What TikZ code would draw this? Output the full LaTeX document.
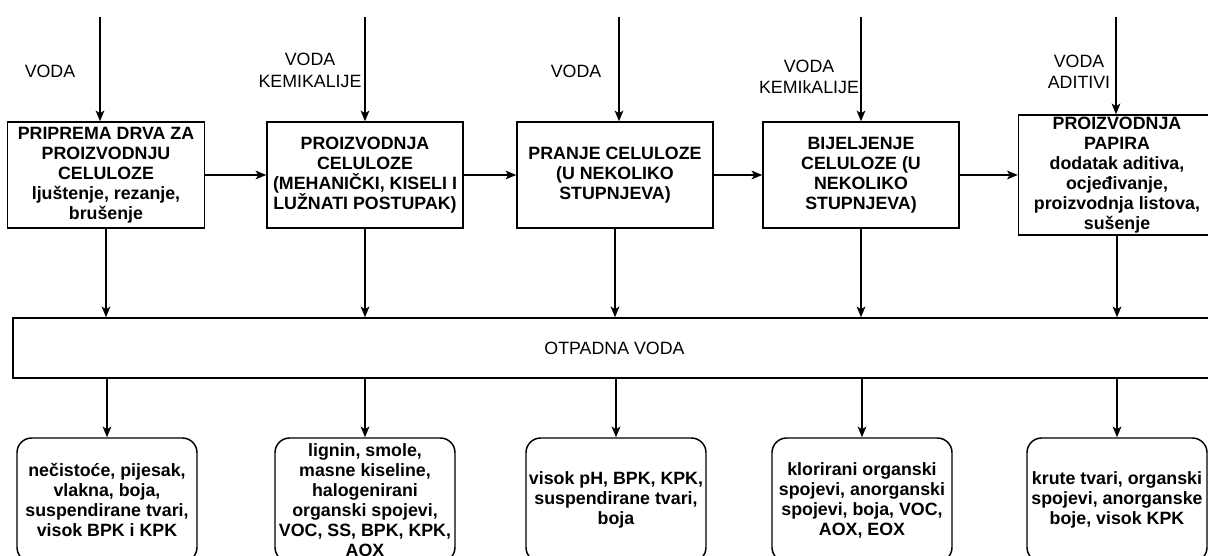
\documentclass[tikz,border=0pt]{standalone}
\usepackage{fontspec}
\setmainfont{Liberation Sans}
\usetikzlibrary{arrows.meta}
\begin{document}
\begin{tikzpicture}[x=0.75pt,y=-0.75pt,
  every node/.style={font=\fontsize{13.35}{15}\selectfont, inner sep=0pt, align=center},
  procbox/.style={draw, line width=1.1pt, font=\fontsize{13.35}{15}\selectfont\bfseries},
  resbox/.style={draw, line width=1.1pt, rounded corners=11pt, font=\fontsize{13.35}{15}\selectfont\bfseries,
     minimum width=135pt, minimum height=93pt},
  lbl/.style={font=\fontsize{13.35}{16}\selectfont},
  flow/.style={line width=1.1pt, -{Stealth[length=8pt,width=6.5pt,inset=2pt]}}
]
\useasboundingbox (0,0) rectangle (1208,556);

% process boxes
\node[procbox, minimum width=147.75pt, minimum height=79.5pt] (b1) at (106,175)
  {PRIPREMA DRVA ZA\\PROIZVODNJU\\CELULOZE\\ljuštenje, rezanje,\\brušenje};
\node[procbox, minimum width=147pt, minimum height=79.5pt] (b2) at (365,175)
  {PROIZVODNJA\\CELULOZE\\(MEHANIČKI, KISELI I\\LUŽNATI POSTUPAK)};
\node[procbox, minimum width=147pt, minimum height=79.5pt] (b3) at (615,175)
  {PRANJE CELULOZE\\(U NEKOLIKO\\STUPNJEVA)};
\node[procbox, minimum width=147pt, minimum height=79.5pt] (b4) at (861,175)
  {BIJELJENJE\\CELULOZE (U\\NEKOLIKO\\STUPNJEVA)};
\node[procbox, minimum width=147.75pt, minimum height=90pt] (b5) at (1117,175)
  {PROIZVODNJA\\PAPIRA\\dodatak aditiva,\\ocjeđivanje,\\proizvodnja listova,\\sušenje};

% waste water
\node[draw, line width=1.1pt, minimum width=902.25pt, minimum height=45pt] (otp) at (614.5,348) {OTPADNA VODA};

% result boxes
\node[resbox] (c1) at (107,500) {nečistoće, pijesak,\\vlakna, boja,\\suspendirane tvari,\\visok BPK i KPK};
\node[resbox] (c2) at (365,500) {lignin, smole,\\masne kiseline,\\halogenirani\\organski spojevi,\\VOC, SS, BPK, KPK,\\AOX};
\node[resbox] (c3) at (616,500) {visok pH, BPK, KPK,\\suspendirane tvari,\\boja};
\node[resbox] (c4) at (862,500) {klorirani organski\\spojevi, anorganski\\spojevi, boja, VOC,\\AOX, EOX};
\node[resbox] (c5) at (1117,500) {krute tvari, organski\\spojevi, anorganske\\boje, visok KPK};

% input labels
\node[lbl] (l1) at (50,71) {VODA};
\node[lbl] (l2) at (310,70.5) {VODA\\KEMIKALIJE};
\node[lbl] (l3) at (576,71) {VODA};
\node[lbl] (l4) at (809,77) {VODA\\KEMIkALIJE};
\node[lbl] (l5) at (1079,71.5) {VODA\\ADITIVI};

% input arrows
\coordinate (i1) at (100,17);
\coordinate (i2) at (365,17);
\coordinate (i3) at (619,17);
\coordinate (i4) at (861,17);
\coordinate (i5) at (1116,17);
\draw[flow] (i1) -- (i1 |- b1.north);
\draw[flow] (i2) -- (i2 |- b2.north);
\draw[flow] (i3) -- (i3 |- b3.north);
\draw[flow] (i4) -- (i4 |- b4.north);
\draw[flow] (i5) -- (i5 |- b5.north);

% process chain
\draw[flow] (b1.east) -- (b2.west);
\draw[flow] (b2.east) -- (b3.west);
\draw[flow] (b3.east) -- (b4.west);
\draw[flow] (b4.east) -- (b4.east -| b5.west);

% to waste water
\draw[flow] (b1.south) -- (b1.south |- otp.north);
\draw[flow] (b2.south) -- (b2.south |- otp.north);
\draw[flow] (b3.south) -- (b3.south |- otp.north);
\draw[flow] (b4.south) -- (b4.south |- otp.north);
\draw[flow] (b5.south) -- (b5.south |- otp.north);

% to results
\draw[flow] (otp.south -| c1.north) -- (c1.north);
\draw[flow] (otp.south -| c2.north) -- (c2.north);
\draw[flow] (otp.south -| c3.north) -- (c3.north);
\draw[flow] (otp.south -| c4.north) -- (c4.north);
\draw[flow] (otp.south -| c5.north) -- (c5.north);
\end{tikzpicture}
\end{document}
